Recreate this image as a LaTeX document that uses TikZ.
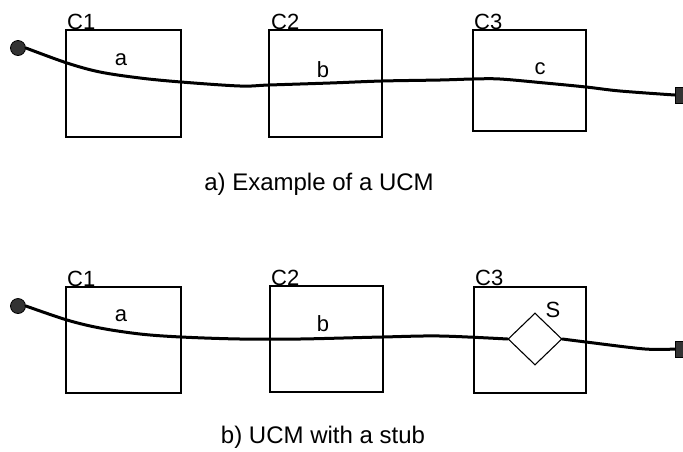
\documentclass[tikz,border=0pt]{standalone}
\usepackage{fontspec}
\setmainfont{Liberation Sans}
\usetikzlibrary{shapes.geometric}
\begin{document}
\begin{tikzpicture}[x=1pt,y=-1pt,
  comp/.style={draw=black, line width=1.1pt},
  ucm/.style={draw=black, line width=3pt, line cap=round, line join=round},
  startpt/.style={circle, fill=black!80, draw=black, line width=0.8pt, minimum size=15pt, inner sep=0pt},
  endbar/.style={rectangle, fill=black!80, draw=black, line width=0.6pt, minimum width=8pt, minimum height=16pt, inner sep=0pt},
  clabel/.style={font=\fontsize{22}{22}\selectfont, anchor=base west, inner sep=0pt},
  plabel/.style={font=\fontsize{22}{22}\selectfont, inner sep=0pt},
  caption/.style={font=\fontsize{24}{24}\selectfont, inner sep=0pt},
  stubshape/.style={diamond, draw=black, fill=white, line width=1.1pt, minimum width=54pt, minimum height=52pt, inner sep=0pt}]
\useasboundingbox (0,0) rectangle (683,451);
% ---------- top: a) ----------
\draw[comp] (66,30) rectangle (181,137);
\draw[comp] (269,30) rectangle (382,137);
\draw[comp] (473,30) rectangle (586,131);
\node[clabel] (c1a) at (67,29) {C1};
\node[clabel] (c2a) at (271,29) {C2};
\node[clabel] (c3a) at (474,29) {C3};
\node[startpt] (sa) at (18,48) {};
\node[endbar] (ea) at (679,95) {};
\draw[ucm] plot[smooth, tension=0.55] coordinates {(sa.east) (67,63) (100,72) (140,78) (181,82) (240,86) (269,85) (330,83) (382,81) (440,80) (473,79) (500,79) (545,83) (586,87) (620,91) (ea.west)};
\node[plabel] (la) at (121,60) {a};
\node[plabel] (lb) at (323,70) {b};
\node[plabel] (lc) at (540,69) {c};
\node[caption] (capa) at (319,184) {a) Example of a UCM};
% ---------- bottom: b) ----------
\draw[comp] (66,287) rectangle (181,393);
\draw[comp] (270,286) rectangle (383,392);
\draw[comp] (474,287) rectangle (586,393);
\node[clabel] (c1b) at (67,286) {C1};
\node[clabel] (c2b) at (271,285) {C2};
\node[clabel] (c3b) at (475,285) {C3};
\node[startpt] (sb) at (18,306) {};
\node[endbar] (eb) at (679,349) {};
\node[stubshape] (stub) at (535,339) {};
\draw[ucm] plot[smooth, tension=0.55] coordinates {(sb.east) (67,320) (100,328) (140,334) (181,337) (240,339) (300,339) (382,337) (440,336) (stub.west)};
\draw[ucm] plot[smooth, tension=0.55] coordinates {(stub.east) (586,342) (645,349) (eb.west)};
\node[plabel] (lsa) at (121,316) {a};
\node[plabel] (lsb) at (323,324) {b};
\node[plabel] (ls) at (553,310) {S};
\node[caption] (capb) at (323,437) {b) UCM with a stub};
\end{tikzpicture}
\end{document}
